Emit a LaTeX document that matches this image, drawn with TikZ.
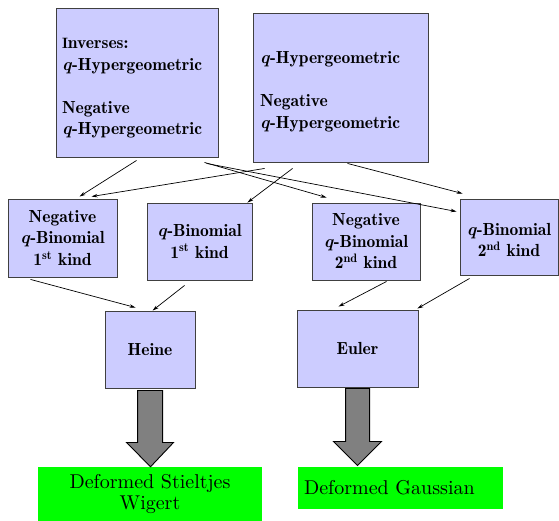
\documentclass[tikz,border=0pt]{standalone}
\usepackage{fontspec}
\setmainfont{lmroman10-regular.otf}[BoldFont=lmromandemi10-regular.otf, ItalicFont=lmroman10-italic.otf, BoldItalicFont=lmroman10-bolditalic.otf]
\usetikzlibrary{calc,arrows.meta}
\definecolor{boxfill}{HTML}{CCCCFF}
\definecolor{boxline}{HTML}{404040}
\definecolor{resgreen}{HTML}{00FF00}
\definecolor{bigarrow}{HTML}{808080}
\tikzset{
  famfont/.style={font=\fontsize{17.5}{21.5}\selectfont\bfseries},
  fambox/.style={draw=boxline, line width=0.9pt, fill=boxfill, inner sep=0pt, align=center, famfont},
  resbox/.style={fill=resgreen, draw=none, inner sep=0pt, font=\fontsize{20}{21}\selectfont},
  conn/.style={draw=black, line width=0.7pt, -{Stealth[length=6pt,width=3.5pt]}},
  fatarrow/.style={draw=black, line width=0.9pt, fill=bigarrow},
}
\newcommand{\qq}{\textit{q}}
\begin{document}
\begin{tikzpicture}[x=1pt,y=-1pt]
\useasboundingbox (0,0) rectangle (559,521);
% top boxes
\node[fambox, minimum width=162pt, minimum height=149pt, text width=150pt, align=left] (A) at (137,82.5)
  {\rule{0pt}{22pt}{\fontsize{15}{21.5}\selectfont I}nverses:\\ \qq-Hypergeometric\\[21.5pt] Negative\\ \qq-Hypergeometric};
\node[fambox, minimum width=175pt, minimum height=149pt, text width=161pt, align=left] (B) at (340.5,87.5)
  {\rule{0pt}{21pt}\qq-Hypergeometric\\[21.5pt] Negative\\ \qq-Hypergeometric};
% middle boxes
\node[fambox, minimum width=109pt, minimum height=78pt] (C) at (62.5,238)
  {Negative\\ \qq-Binomial\\ 1\textsuperscript{st} kind};
\node[fambox, minimum width=105pt, minimum height=77pt] (D) at (199.5,241.5)
  {\qq-Binomial\\ 1\textsuperscript{st} kind};
\node[fambox, minimum width=108pt, minimum height=77pt] (E) at (366,241.5)
  {Negative\\ \qq-Binomial\\ 2\textsuperscript{nd} kind};
\node[fambox, minimum width=98pt, minimum height=76pt] (F) at (509,237)
  {\rule{0pt}{18pt}\qq-Binomial\\ 2\textsuperscript{nd} kind};
% lower boxes
\node[fambox, minimum width=90pt, minimum height=77pt] (H) at (150,349.5) {Heine};
\node[fambox, minimum width=121pt, minimum height=77pt] (EU) at (357.5,348.5) {Euler};
% results
\node[resbox, minimum width=224pt, minimum height=54pt, align=center] (G1) at (150,494)
  {Deformed Stieltjes\\ Wigert};
\node[resbox, minimum width=205pt, minimum height=42pt, text width=193pt, inner xsep=6pt, align=left] (G2) at (400.5,488)
  {Deformed Gaussian};
% connectors
\draw[conn] ($(A.south west)+(81,3)$) -- ($(C.north west)+(72,-2)$);
\draw[conn] ($(B.south west)+(12,6)$) -- ($(C.north west)+(84,-2)$);
\draw[conn] ($(A.south west)+(149,5)$) -- ($(E.north west)+(15,-5)$);
\draw[conn] ($(A.south west)+(151,6)$) -- ($(F.north west)+(-3,13)$);
\draw[conn] ($(B.south west)+(40,6)$) -- ($(D.north east)+(-5,0)$);
\draw[conn] ($(B.south west)+(95,1)$) -- ($(F.north west)+(3,-5)$);
\draw[conn] ($(C.south west)+(23,2)$) -- ($(H.north west)+(31,-3)$);
\draw[conn] ($(D.south west)+(38,5)$) -- ($(H.north west)+(48,0)$);
\draw[conn] ($(E.south west)+(75,1)$) -- ($(EU.north west)+(42,-3)$);
\draw[conn] ($(F.south west)+(10,3)$) -- ($(EU.north east)+(-1,-1)$);
% fat arrows
\draw[fatarrow] ($(H.south west)+(33,2)$) -- ($(H.south west)+(33,54)$) -- ($(H.south west)+(22,54)$)
  -- ($(G1.north)+(0.5,0)$) -- ($(H.south west)+(69,54)$) -- ($(H.south west)+(58,54)$) -- ($(H.south west)+(58,2)$) -- cycle;
\draw[fatarrow] ($(EU.south west)+(49,1)$) -- ($(EU.south west)+(49,54)$) -- ($(EU.south west)+(37,54)$)
  -- ($(EU.south west)+(61,78)$) -- ($(EU.south west)+(85,54)$) -- ($(EU.south west)+(73,54)$) -- ($(EU.south west)+(73,1)$) -- cycle;
\end{tikzpicture}
\end{document}
